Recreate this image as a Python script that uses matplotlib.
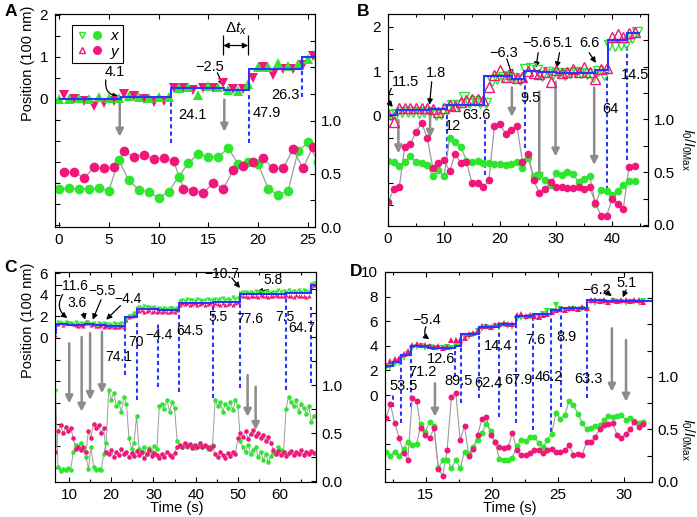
import numpy as np
import matplotlib
matplotlib.use('Agg')
import matplotlib.pyplot as plt
from matplotlib.lines import Line2D
from matplotlib.legend_handler import HandlerTuple

# ---- Style ----
plt.rcParams['font.family'] = ['Liberation Sans', 'DejaVu Sans']
plt.rcParams['mathtext.fontset'] = 'custom'
plt.rcParams['mathtext.rm'] = 'Liberation Sans'
plt.rcParams['mathtext.it'] = 'Liberation Sans:italic'
plt.rcParams['axes.linewidth'] = 0.8

GREEN = '#2ee62e'
PINK = '#f0167a'
BLUE = '#2a35ff'
GRAY = '#8c8c8c'
LINE = '#9c9c9c'

# ---- Panel A data (t in s, position in 100 nm, intensity normalised) ----
a_t_x = np.arange(0, 27)
a_t_y = np.arange(0.5, 26)
a_pos_x = [0.0, 0.0, 0.02, 0.0, 0.04, 0.03, 0.02, 0.08, 0.05, 0.02, 0.04, 0.04, 0.26, 0.28,
           0.1, 0.3, 0.28, 0.22, 0.18, 0.35, 0.77, 0.76, 0.86, 0.78, 0.82, 0.95, 1.05]
a_pos_y = [0.1, 0.0, -0.05, -0.17, -0.09, -0.05, 0.12, 0.08, 0.0, -0.08, -0.05, 0.25, 0.25,
           0.22, 0.26, 0.25, 0.37, 0.24, 0.24, 0.5, 0.75, 0.57, 0.72, 0.72, 0.8, 1.02]
a_int_x = [0.357, 0.37, 0.357, 0.357, 0.37, 0.338, 0.63, 0.44, 0.35, 0.33, 0.275, 0.33, 0.47,
           0.60, 0.69, 0.66, 0.66, 0.74, 0.59, 0.61, 0.59, 0.36, 0.30, 0.34, 0.71, 0.795, 0.61]
a_int_y = [0.52, 0.52, 0.457, 0.56, 0.55, 0.56, 0.71, 0.66, 0.68, 0.64, 0.645, 0.62, 0.36,
           0.34, 0.32, 0.415, 0.36, 0.535, 0.57, 0.61, 0.645, 0.55, 0.55, 0.73, 0.55, 0.755]
a_step_edges = [0, 6.2, 11.25, 16.6, 19.1, 24.4, 26.1]
a_step_levels = [0.0, 0.05, 0.27, 0.22, 0.72, 0.99]
a_dash_t = [11.25, 19.1, 24.4]
a_dash_top = [-0.02, 0.17, 0.74]
a_dash_bot = [-1.05, -1.05, 0.05]
a_arrow_t = [6.1, 16.6]
a_arrow_top = [-0.02, -0.02]
a_arrow_bot = [-0.9, -0.78]
a_labels = [('24.1', 13.35, -0.38), ('47.9', 20.9, -0.33), ('26.3', 22.7, 0.1),
            ('4.1', 5.62, 0.64), ('\u22122.5', 15.16, 0.76)]
a_pointers = [((4.7, 0.45), (6.0, 0.06), 0.5), ((15.9, 0.62), (16.5, 0.31), 0.0)]

# ---- Panel B data ----
b_t = np.arange(0, 45)
b_pos_y = [0.05, -0.13, 0.18, 0.17, 0.17, 0.17, 0.17, 0.17, 0.16, 0.10,
           0.17, 0.25, 0.22, 0.32, 0.36, 0.38, 0.37, 0.36, 0.64, 0.92,
           1.03, 0.87, 0.95, 0.86, 0.87, 1.02, 0.97, 0.94, 0.99, 0.77,
           1.04, 0.97, 0.98, 1.06, 0.98, 1.09, 0.99, 0.84, 1.05, 1.07,
           1.78, 1.85, 1.78, 1.86, 1.88]
b_pos_x = [0.02, 0.05, 0.10, 0.08, 0.10, 0.06, 0.08, 0.10, 0.03, 0.05,
           0.15, 0.25, 0.24, 0.42, 0.30, 0.33, 0.30, 0.28, 0.78, 0.83,
           0.88, 0.90, 0.85, 0.80, 1.05, 1.07, 1.03, 0.90, 0.98, 0.95,
           0.97, 0.93, 0.97, 0.98, 0.97, 0.95, 0.88, 1.00, 0.92, 1.60,
           1.58, 1.60, 1.62, 1.75, 1.88]
b_int_y = [0.214, 0.337, 0.356, 0.739, 0.77, 0.88, 0.965, 0.827, 0.535, 0.588,
           0.613, 0.51, 0.676, 0.588, 0.60, 0.393, 0.40, 0.356, 0.425, 0.934,
           0.953, 0.865, 0.896, 0.94, 0.60, 0.676, 0.425, 0.30, 0.337, 0.41,
           0.36, 0.36, 0.346, 0.346, 0.356, 0.337, 0.356, 0.21, 0.088, 0.088,
           0.242, 0.198, 0.154, 0.55, 0.563]
b_int_x = [0.61, 0.60, 0.56, 0.60, 0.65, 0.60, 0.59, 0.57, 0.46, 0.52,
           0.46, 0.82, 0.79, 0.74, 0.61, 0.60, 0.61, 0.59, 0.59, 0.58,
           0.58, 0.57, 0.58, 0.60, 0.54, 0.63, 0.46, 0.47, 0.43, 0.38,
           0.49, 0.47, 0.50, 0.48, 0.41, 0.44, 0.46, 0.20, 0.33, 0.32,
           0.28, 0.32, 0.38, 0.42, 0.42]
b_step_edges = [0, 1.55, 7.4, 10.5, 17.2, 22.1, 24.2, 26.9, 30.0, 36.9, 39.2, 42.6, 45.0]
b_step_levels = [0.02, 0.13, 0.15, 0.25, 0.89, 0.83, 1.01, 0.98, 0.97, 1.04, 1.70, 1.86]
b_dash_t = [10.5, 17.3, 24.4, 39.1, 42.6]
b_dash_top = [0.09, -0.09, 0.88, 0.99, 1.64]
b_dash_bot = [-1.06, -1.33, -0.72, -1.66, -0.99]
b_arrow_t = [1.85, 7.5, 22.1, 27.0, 29.9, 36.8]
b_arrow_top = [-0.09, 0.13, 0.64, 0.55, 0.77, 0.64]
b_arrow_bot = [-0.84, -0.49, -0.02, -1.48, -0.91, -1.10]
b_labels = [('11.5', 3.1, 0.77), ('1.8', 8.57, 0.97), ('12', 11.55, -0.22),
            ('63.6', 15.7, 0.02), ('\u22126.3', 20.7, 1.42), ('\u22125.6', 26.6, 1.64),
            ('5.1', 31.2, 1.64), ('6.6', 35.9, 1.64), ('9.5', 25.4, 0.41),
            ('64', 39.6, 0.16), ('14.5', 44.1, 0.92)]
b_pointers = [((0.6, 0.62), (0.85, 0.2), 0.35), ((7.8, 0.77), (7.4, 0.25), 0.0),
              ((21.2, 1.28), (22.2, 0.9), 0.0), ((26.8, 1.42), (26.4, 1.08), 0.0),
              ((30.6, 1.42), (30.1, 1.08), 0.0), ((35.9, 1.42), (37.1, 1.19), 0.0)]

# ---- Panel C data ----
c_t = 6.8 + 0.6 * np.arange(103)
c_pos_x = [0.9, 1.5, 1.4, 1.3, 1.5, 1.35, 1.4, 1.3, 1.45, 1.3,
           1.4, 1.3, 1.35, 1.5, 1.3, 1.4, 1.2, 1.35, 1.3, 1.4,
           1.25, 1.3, 1.2, 1.35, 1.3, 1.25, 1.35, 1.3, 1.8, 2.0,
           2.1, 2.3, 2.8, 2.9, 2.8, 3.0, 2.85, 2.9, 2.75, 2.85,
           2.7, 2.75, 2.65, 2.8, 2.7, 2.75, 2.8, 2.7, 2.8, 3.4,
           3.5, 3.45, 3.6, 3.5, 3.55, 3.4, 3.6, 3.5, 3.45, 3.55,
           3.6, 3.5, 3.55, 3.65, 3.5, 3.6, 3.7, 3.55, 3.6, 3.5,
           3.75, 3.6, 3.7, 4.2, 4.3, 4.25, 4.2, 4.3, 4.2, 4.35,
           4.25, 4.3, 4.2, 4.35, 4.3, 4.2, 4.3, 4.25, 4.4, 4.3,
           4.35, 4.25, 4.4, 4.3, 4.35, 4.3, 4.45, 4.3, 4.4, 4.35,
           4.3, 5.0, 5.05]
c_pos_y = [0.3, 1.3, 1.45, 1.2, 1.35, 1.5, 1.4, 1.3, 1.2, 1.15,
           1.2, 1.1, 1.55, 1.4, 1.2, 1.3, 1.15, 1.1, 1.2, 1.0,
           1.15, 1.05, 1.1, 1.0, 1.05, 1.0, 1.1, 1.05, 1.7, 1.9,
           2.0, 2.2, 2.6, 2.5, 2.55, 2.45, 2.5, 2.55, 2.4, 2.5,
           2.45, 2.5, 2.4, 2.5, 2.45, 2.4, 2.5, 2.45, 2.55, 3.1,
           3.2, 3.15, 3.2, 3.1, 3.15, 3.2, 3.1, 3.15, 3.2, 3.1,
           3.15, 3.2, 3.1, 3.2, 3.15, 3.1, 3.2, 3.1, 3.15, 3.2,
           3.1, 3.2, 3.3, 3.95, 3.85, 3.9, 3.8, 3.9, 3.85, 3.9,
           3.8, 3.95, 3.85, 3.9, 3.8, 3.9, 3.85, 3.95, 3.9, 3.85,
           3.9, 3.95, 3.85, 3.9, 3.8, 3.95, 3.9, 3.85, 3.9, 3.8,
           3.85, 4.85, 4.9]
c_int_x = [0.95, 0.15, 0.10, 0.13, 0.11, 0.14, 0.12, 0.30, 0.38, 0.36,
           0.40, 0.33, 0.25, 0.13, 0.36, 0.15, 0.12, 0.13, 0.11, 0.28,
           0.40, 0.95, 0.85, 0.92, 0.78, 0.82, 0.72, 0.88, 0.80, 0.45,
           0.33, 0.40, 0.68, 0.33, 0.30, 0.36, 0.28, 0.34, 0.30, 0.37,
           0.33, 0.78, 0.80, 0.75, 0.85, 0.72, 0.82, 0.76, 0.42, 0.37,
           0.36, 0.39, 0.35, 0.38, 0.37, 0.34, 0.36, 0.38, 0.35, 0.37,
           0.33, 0.36, 0.38, 0.85, 0.78, 0.82, 0.72, 0.80, 0.76, 0.82,
           0.74, 0.84, 0.78, 0.42, 0.35, 0.30, 0.38, 0.28, 0.32, 0.36,
           0.25, 0.30, 0.22, 0.28, 0.20, 0.26, 0.30, 0.28, 0.35, 0.32,
           0.30, 0.75, 0.88, 0.82, 0.78, 0.84, 0.72, 0.80, 0.76, 0.70,
           0.78, 0.62, 0.68]
c_int_y = [0.30, 0.52, 0.58, 0.50, 0.56, 0.52, 0.55, 0.45, 0.33, 0.35,
           0.32, 0.36, 0.30, 0.52, 0.45, 0.60, 0.55, 0.58, 0.50, 0.55,
           0.30, 0.28, 0.32, 0.25, 0.30, 0.27, 0.33, 0.28, 0.30, 0.25,
           0.29, 0.26, 0.31, 0.27, 0.30, 0.24, 0.28, 0.32, 0.26, 0.29,
           0.27, 0.24, 0.28, 0.25, 0.30, 0.27, 0.25, 0.29, 0.36, 0.38,
           0.35, 0.40, 0.37, 0.39, 0.34, 0.38, 0.36, 0.40, 0.35, 0.38,
           0.36, 0.33, 0.37, 0.28, 0.25, 0.30, 0.27, 0.24, 0.29, 0.26,
           0.30, 0.28, 0.45, 0.50, 0.46, 0.52, 0.44, 0.49, 0.53, 0.47,
           0.50, 0.45, 0.48, 0.42, 0.46, 0.40, 0.32, 0.28, 0.31, 0.27,
           0.30, 0.26, 0.29, 0.31, 0.27, 0.30, 0.28, 0.32, 0.27, 0.30,
           0.28, 0.31, 0.29]
c_step_edges = [6.6, 7.0, 9.6, 13.8, 15.7, 18.8, 23.3, 26.0, 31.0, 36.1, 44.2, 50.5,
                61.4, 67.3, 68.6]
c_step_levels = [0.45, 1.28, 1.2, 1.25, 1.18, 1.1, 1.9, 2.7, 2.6, 3.25, 3.3, 4.1, 4.15, 4.95]
c_dash_t = [23.3, 26.0, 31.0, 36.1, 44.2, 50.5, 61.4, 67.3]
c_dash_top = [1.02, 1.51, 1.39, 2.59, 3.06, 3.82, 3.82, 2.9]
c_dash_bot = [-3.43, -5.74, -4.54, -5.0, -5.56, -4.63, -4.81, -4.17]
c_arrow_t = [10.05, 13.0, 15.0, 17.8, 52.3, 54.2]
c_arrow_top = [-0.49, 0.09, 0.46, 0.58, -3.43, -4.51]
c_arrow_bot = [-6.05, -6.82, -5.74, -5.12, -7.29, -8.52]
c_labels = [('\u221211.6', 10.5, 4.81), ('3.6', 11.82, 3.21), ('\u22125.5', 17.9, 4.35),
            ('\u22124.4', 23.9, 3.65), ('74.1', 21.68, -1.73), ('70', 25.9, -0.34),
            ('\u22124.4', 31.4, 0.28), ('64.5', 38.67, 0.65), ('5.5', 45.38, 1.97),
            ('77.6', 52.9, 1.73), ('\u221210.7', 46.2, 5.93), ('5.8', 58.4, 5.37),
            ('7.5', 61.2, 1.97), ('64.7', 65.1, 0.9)]
c_pointers = [((8.5, 4.01), (9.6, 1.85), 0.45), ((13.4, 2.31), (13.8, 1.69), 0.0),
              ((17.6, 3.55), (15.6, 1.69), 0.0), ((22.2, 3.0), (18.8, 1.69), 0.0),
              ((48.55, 5.56), (50.5, 4.63), 0.0), ((57.2, 4.47), (54.5, 4.26), 0.0)]

# ---- Panel D data ----
d_t = 12.0 + 0.33 * np.arange(60)
d_pos_y = [2.45, 2.75, 2.9, 3.0, 3.35, 3.6, 4.1, 4.15, 4.05, 4.1,
           3.95, 3.9, 4.0, 3.85, 3.9, 4.45, 4.5, 4.45, 4.6, 4.95,
           5.05, 5.3, 5.6, 5.65, 5.55, 5.7, 5.8, 5.85, 5.8, 5.75,
           6.5, 6.55, 6.4, 6.5, 6.45, 6.35, 6.5, 6.6, 6.75, 6.9,
           7.0, 6.95, 7.05, 7.1, 7.0, 7.15, 7.05, 7.7, 7.75, 7.65,
           7.7, 7.6, 7.75, 7.65, 7.7, 7.75, 7.65, 7.75, 7.7, 7.6]
d_pos_x = [2.2, 2.3, 2.5, 2.6, 3.0, 3.3, 3.85, 3.9, 3.95, 3.85,
           3.9, 3.8, 3.85, 3.8, 3.9, 3.85, 3.95, 4.1, 4.6, 4.75,
           4.9, 5.2, 5.4, 5.5, 5.45, 5.6, 5.55, 5.7, 5.6, 5.55,
           6.2, 6.3, 6.25, 6.35, 6.3, 6.4, 6.6, 6.8, 6.85, 7.35,
           7.0, 6.9, 6.95, 7.0, 6.95, 7.0, 6.95, 7.55, 7.5, 7.6,
           7.55, 7.5, 7.65, 7.55, 7.6, 7.5, 7.55, 7.6, 7.5, 7.65]
d_int_y = [0.61, 0.74, 0.56, 0.42, 0.28, 0.21, 0.80, 0.77, 0.51, 0.45,
           0.42, 0.51, 0.12, 0.06, 0.30, 0.81, 0.85, 0.40, 0.53, 0.25,
           0.31, 0.45, 0.60, 0.62, 0.45, 0.38, 0.33, 0.32, 0.33, 0.47,
           0.30, 0.26, 0.26, 0.28, 0.30, 0.30, 0.28, 0.30, 0.31, 0.29,
           0.29, 0.30, 0.35, 0.26, 0.27, 0.26, 0.38, 0.38, 0.43, 0.50,
           0.54, 0.55, 0.56, 0.45, 0.42, 0.46, 0.50, 0.57, 0.52, 0.55]
d_int_x = [0.29, 0.25, 0.29, 0.25, 0.31, 0.38, 0.35, 0.36, 0.55, 0.48,
           0.57, 0.53, 0.13, 0.21, 0.21, 0.13, 0.21, 0.13, 0.29, 0.27,
           0.33, 0.40, 0.47, 0.55, 0.49, 0.38, 0.22, 0.21, 0.21, 0.23,
           0.34, 0.40, 0.39, 0.43, 0.43, 0.37, 0.33, 0.40, 0.46, 0.66,
           0.60, 0.64, 0.77, 0.73, 0.65, 0.56, 0.50, 0.51, 0.53, 0.54,
           0.59, 0.63, 0.62, 0.63, 0.64, 0.59, 0.61, 0.58, 0.56, 0.57]
d_step_edges = [11.9, 12.5, 13.1, 13.9, 15.2, 17.2, 17.7, 19.0, 20.55, 21.85, 23.15,
                24.5, 25.25, 27.2, 28.5, 29.9, 32.2]
d_step_levels = [2.35, 2.65, 3.25, 4.0, 3.85, 3.95, 4.95, 5.5, 5.75, 6.4, 6.55, 6.9,
                 7.05, 7.7, 7.62, 7.68]
d_dash_t = [12.5, 13.1, 13.9, 17.2, 17.7, 19.0, 20.55, 21.85, 23.15, 24.5, 25.25, 27.2]
d_dash_top = [0.16, 2.85, 3.66, 3.66, 4.58, 4.8, 5.53, 6.34, 6.5, 6.75, 7.02, 7.56]
d_dash_bot = [-0.95, -2.28, -0.95, 1.46, -0.65, -0.24, -1.76, -2.28, -2.85, -2.98,
              -0.95, -0.24]
d_arrow_t = [15.7, 29.1, 30.17]
d_arrow_top = [0.95, 5.42, 4.47]
d_arrow_bot = [-1.76, 0.27, -0.54]
d_labels = [('\u22125.4', 15.08, 6.1), ('12.6', 16.2, 2.9), ('71.2', 14.77, 1.89),
            ('53.5', 13.3, 0.73), ('89.5', 17.47, 1.16), ('62.4', 19.74, 0.95),
            ('14.4', 20.5, 3.98), ('67.9', 22.0, 1.22), ('7.6', 23.28, 4.47),
            ('46.2', 24.36, 1.44), ('8.9', 25.63, 4.69), ('63.3', 27.32, 1.33),
            ('\u22126.2', 27.95, 8.54), ('5.1', 30.23, 9.08)]
d_pointers = [((15.02, 5.55), (15.27, 4.53), 0.4), ((28.5, 8.48), (29.1, 8.05), 0.0),
              ((30.17, 8.54), (29.92, 7.94), 0.0)]

fig = plt.figure(figsize=(6.97, 5.17), dpi=100)


def make_panel(rect, xlim, ylim_pos, ylim_int, xmajor, xminor, pos_ticks, pos_labeled):
    ax = fig.add_axes(rect)
    ax2 = ax.twinx()
    ax.set_xlim(xlim)
    ax.set_ylim(ylim_pos)
    ax2.set_ylim(ylim_int)
    ax.set_xticks(xmajor)
    ax.set_xticks(xminor, minor=True)
    ax.set_yticks(pos_ticks)
    ax.set_yticklabels([f'{v:g}' if v in pos_labeled else '' for v in pos_ticks])
    int_ticks = np.arange(0, 2.01, 0.25)
    ax2.set_yticks(int_ticks)
    ax2.set_yticklabels([f'{v:.1f}' if v in (0, 0.5, 1.0) else '' for v in int_ticks])
    ax.tick_params(axis='x', which='both', direction='in', top=True, labelsize=11,
                   length=3.5, width=0.8, pad=4)
    ax.tick_params(axis='x', which='minor', length=2.5)
    ax.tick_params(axis='y', direction='in', right=False, labelsize=11, length=3.5,
                   width=0.8, pad=5)
    ax2.tick_params(axis='y', direction='in', labelsize=11, length=3.5, width=0.8, pad=4)
    return ax, ax2


def draw_marks(ax, edges, levels, dash_t, dash_top, dash_bot, arr_t, arr_top, arr_bot,
               labels, pointers, fsize=10.5):
    ax.stairs(levels, edges, baseline=None, color=BLUE, lw=1.5, zorder=4)
    ax.vlines(dash_t, dash_bot, dash_top, colors=BLUE, linestyles=(0, (2, 1.5)), lw=1.5)
    for t, p0, p1 in zip(arr_t, arr_top, arr_bot):
        ax.annotate('', xy=(t, p1), xytext=(t, p0),
                    arrowprops=dict(arrowstyle='-|>', color=GRAY, lw=1.8,
                                    mutation_scale=11, shrinkA=0, shrinkB=0))
    for txt, t, p in labels:
        ax.text(t, p, txt, ha='center', va='center', fontsize=fsize, zorder=6)
    for tail, head, rad in pointers:
        ax.annotate('', xy=head, xytext=tail,
                    arrowprops=dict(arrowstyle='-|>', color='black', lw=0.9,
                                    mutation_scale=8, shrinkA=0, shrinkB=0,
                                    connectionstyle=f'arc3,rad={rad}'))


# ---- A ----
axA, axA2 = make_panel([0.0789, 0.5609, 0.3730, 0.4120], (-0.4, 25.7), (-3.05, 2.02), (0, 2.0),
                       np.arange(0, 26, 5), [], np.arange(-3, 2.01, 0.5), (0, 1, 2))
draw_marks(axA, a_step_edges, a_step_levels, a_dash_t, a_dash_top, a_dash_bot,
           a_arrow_t, a_arrow_top, a_arrow_bot, a_labels, a_pointers)
axA.plot(a_t_y, a_pos_y, 'v', color=PINK, ms=6.5, mew=0, zorder=3)
axA.plot(a_t_x, a_pos_x, '^', color=GREEN, ms=6.5, mew=0, zorder=3)
axA2.plot(a_t_x, a_int_x, '-', color=LINE, lw=0.9)
axA2.plot(a_t_y, a_int_y, '-', color=LINE, lw=0.9)
axA2.plot(a_t_x, a_int_x, 'o', color=GREEN, ms=7, mew=0)
axA2.plot(a_t_y, a_int_y, 'o', color=PINK, ms=7, mew=0)
# delta t_x bracket
axA.vlines([16.5, 19.0], 1.05, 1.52, colors='black', lw=0.9)
axA.annotate('', xy=(16.5, 1.27), xytext=(19.0, 1.27),
             arrowprops=dict(arrowstyle='<|-|>', color='black', lw=0.9, mutation_scale=8,
                             shrinkA=0, shrinkB=0))
axA.text(17.75, 1.67, r'$\Delta t_x$', ha='center', va='center', fontsize=11)
hx_t = Line2D([], [], marker='v', ls='none', mfc='white', mec=GREEN, ms=5, mew=1)
hx_d = Line2D([], [], marker='o', ls='none', color=GREEN, ms=6.5, mew=0)
hy_t = Line2D([], [], marker='^', ls='none', mfc='white', mec=PINK, ms=5, mew=1)
hy_d = Line2D([], [], marker='o', ls='none', color=PINK, ms=6.5, mew=0)
leg = axA.legend([(hx_t, hx_d), (hy_t, hy_d)], ['x', 'y'],
                 handler_map={tuple: HandlerTuple(ndivide=None, pad=0.4)},
                 loc='upper left', bbox_to_anchor=(0.055, 0.965), frameon=True,
                 fancybox=False, edgecolor='black', framealpha=1, handlelength=1.6,
                 prop={'style': 'italic', 'size': 11}, borderpad=0.3,
                 labelspacing=0.1, handletextpad=0.6, borderaxespad=0.2)
leg.get_frame().set_linewidth(0.8)

# ---- B ----
axB, axB2 = make_panel([0.5567, 0.5629, 0.3730, 0.4101], (0, 46.4), (-2.47, 2.29), (-0.01, 1.99),
                       np.arange(0, 46, 10), np.arange(0, 46, 5), np.arange(-2, 2.01, 0.5),
                       (0, 1, 2))
draw_marks(axB, b_step_edges, b_step_levels, b_dash_t, b_dash_top, b_dash_bot,
           b_arrow_t, b_arrow_top, b_arrow_bot, b_labels, b_pointers)
axB.plot(b_t + 0.5, b_pos_x, 'v', mfc='none', mec=GREEN, ms=6.5, mew=1, zorder=3)
axB.plot(b_t, b_pos_y, '^', mfc='none', mec=PINK, ms=6.5, mew=1, zorder=3)
axB2.plot(b_t, b_int_x, '-', color=LINE, lw=0.9)
axB2.plot(b_t, b_int_y, '-', color=LINE, lw=0.9)
axB2.plot(b_t, b_int_x, 'o', color=GREEN, ms=5.5, mew=0)
axB2.plot(b_t, b_int_y, 'o', color=PINK, ms=5.5, mew=0)

# ---- C ----
axC, axC2 = make_panel([0.0789, 0.0677, 0.3745, 0.4062], (6.68, 68.5), (-13.33, 6.11),
                       (-0.01, 2.18), np.arange(10, 61, 10), np.arange(10, 66, 5),
                       np.arange(-12, 6.01, 2), (0, 2, 4, 6))
draw_marks(axC, c_step_edges, c_step_levels, c_dash_t, c_dash_top, c_dash_bot,
           c_arrow_t, c_arrow_top, c_arrow_bot, c_labels, c_pointers, fsize=10)
axC.plot(c_t, c_pos_y, '^', color=PINK, ms=3, mew=0, zorder=3)
axC.plot(c_t, c_pos_x, 'v', color=GREEN, ms=3, mew=0, zorder=3)
axC2.plot(c_t, c_int_x, '-', color=LINE, lw=0.7)
axC2.plot(c_t, c_int_y, '-', color=LINE, lw=0.7)
axC2.plot(c_t, c_int_x, 'o', color=GREEN, ms=3.3, mew=0)
axC2.plot(c_t, c_int_y, 'o', color=PINK, ms=3.3, mew=0)

# ---- D ----
axD, axD2 = make_panel([0.5524, 0.0677, 0.3831, 0.4062], (11.92, 32.14), (-7.07, 10.0), (0, 2.0),
                       np.arange(15, 31, 5), np.arange(12.5, 32.1, 2.5),
                       np.arange(-6, 10.01, 2), (0, 2, 4, 6, 8, 10))
draw_marks(axD, d_step_edges, d_step_levels, d_dash_t, d_dash_top, d_dash_bot,
           d_arrow_t, d_arrow_top, d_arrow_bot, d_labels, d_pointers)
axD.plot(d_t, d_pos_x, 'v', color=GREEN, ms=4.5, mew=0, zorder=3)
axD.plot(d_t, d_pos_y, '^', color=PINK, ms=4.5, mew=0, zorder=3)
axD2.plot(d_t, d_int_x, '-', color=LINE, lw=0.8)
axD2.plot(d_t, d_int_y, '-', color=LINE, lw=0.8)
axD2.plot(d_t, d_int_x, 'o', color=GREEN, ms=4.3, mew=0)
axD2.plot(d_t, d_int_y, 'o', color=PINK, ms=4.3, mew=0)

# ---- Labels ----
for letter, x, y in [('A', 0.006, 0.977), ('B', 0.512, 0.977), ('C', 0.006, 0.482),
                     ('D', 0.502, 0.474)]:
    fig.text(x, y, letter, fontsize=12.5, fontweight='bold', ha='left', va='center')
for y in (0.878, 0.381):
    fig.text(0.040, y, 'Position (100 nm)', rotation=90, ha='center', va='center', fontsize=10.5)
for y in (0.71, 0.150):
    fig.text(0.987, y, r'$I_0/I_{0\mathrm{Max}}$', rotation=270, ha='center', va='center',
             fontsize=10)
for x in (0.254, 0.732):
    fig.text(x, 0.018, 'Time (s)', ha='center', va='center', fontsize=10.5)

fig.savefig('out.png', dpi=100)
